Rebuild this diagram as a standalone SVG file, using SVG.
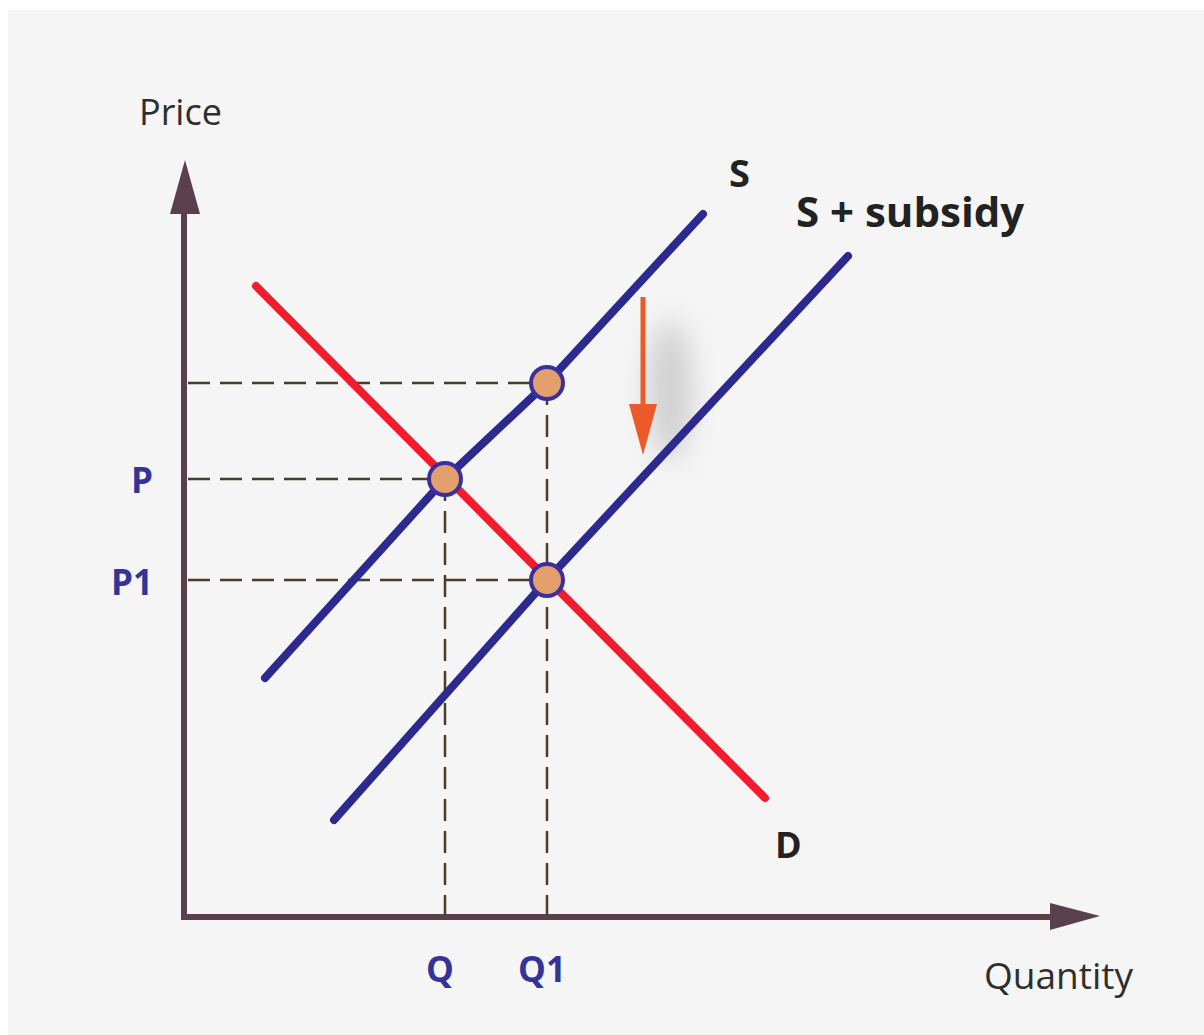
<svg xmlns="http://www.w3.org/2000/svg" width="1204" height="1035" viewBox="0 0 1204 1035">
<style>
.axis{stroke:#5a3f4c;stroke-width:6;fill:none}
.dash{stroke:#4a3d2c;stroke-width:2.5;stroke-dasharray:22 10;fill:none}
.sup{stroke:#2c2a8e;stroke-width:8;fill:none;stroke-linecap:round;stroke-linejoin:round}
.dem{stroke:#f21c2c;stroke-width:8;fill:none;stroke-linecap:round}
.dot{fill:#e3a06c;stroke:#3b2f9e;stroke-width:4}
.lbl{font-family:"Open Sans","DejaVu Sans",sans-serif;fill:#2e2e2e}
.curve{font-family:"Open Sans","DejaVu Sans",sans-serif;font-weight:bold;fill:#222}
.val{font-family:"Open Sans","DejaVu Sans",sans-serif;font-weight:bold;fill:#34339a;font-size:35px}
</style>
<defs>
<filter id="blur" x="-50%" y="-50%" width="200%" height="200%"><feGaussianBlur stdDeviation="14"/></filter>
</defs>
<rect x="0" y="0" width="1204" height="1035" fill="#ffffff"/>
<rect x="8" y="10" width="1196" height="1025" fill="#f5f5f5"/>
<g id="shadow"><ellipse cx="670" cy="390" rx="22" ry="70" fill="#888" opacity="0.35" filter="url(#blur)"/></g>
<g id="connectors">
<line class="axis" x1="184" y1="917" x2="184" y2="205"/>
<polygon points="185,160 170,214 200,214" fill="#5a3f4c"/>
<line class="axis" x1="181" y1="917" x2="1055" y2="917"/>
<polygon points="1100,916 1050,903 1050,930" fill="#5a3f4c"/>
<line class="dash" x1="188" y1="383" x2="547" y2="383"/>
<line class="dash" x1="188" y1="479" x2="445" y2="479"/>
<line class="dash" x1="188" y1="580" x2="547" y2="580"/>
<line class="dash" x1="445" y1="479" x2="445" y2="915"/>
<line class="dash" x1="547" y1="383" x2="547" y2="915"/>
<line class="dem" x1="256" y1="286" x2="765" y2="798"/>
<polyline class="sup" points="265,678 445,479 547,383 703,214"/>
<polyline class="sup" points="334,820 547,580 848,256"/>
<line x1="643" y1="297" x2="643" y2="410" stroke="#ec5a2a" stroke-width="5"/>
<polygon points="629,404 657,404 643,455" fill="#ec5a2a"/>
</g>
<g id="dot-upper"><circle class="dot" cx="547" cy="383" r="16"/></g>
<g id="dot-p"><circle class="dot" cx="445" cy="479" r="16"/></g>
<g id="dot-p1"><circle class="dot" cx="547" cy="580" r="16"/></g>
<g id="labels">
<text class="lbl" x="139" y="125" font-size="36">Price</text>
<text class="lbl" x="984" y="989" font-size="37">Quantity</text>
<text class="curve" x="729" y="187" font-size="38">S</text>
<text class="curve" x="796" y="227" font-size="42">S + subsidy</text>
<text class="curve" x="775" y="858" font-size="36">D</text>
<text class="val" x="153" y="493" text-anchor="end">P</text>
<text class="val" x="153" y="595" text-anchor="end">P1</text>
<text class="val" x="440" y="982" text-anchor="middle">Q</text>
<text class="val" x="542" y="982" text-anchor="middle">Q1</text>
</g>
</svg>
